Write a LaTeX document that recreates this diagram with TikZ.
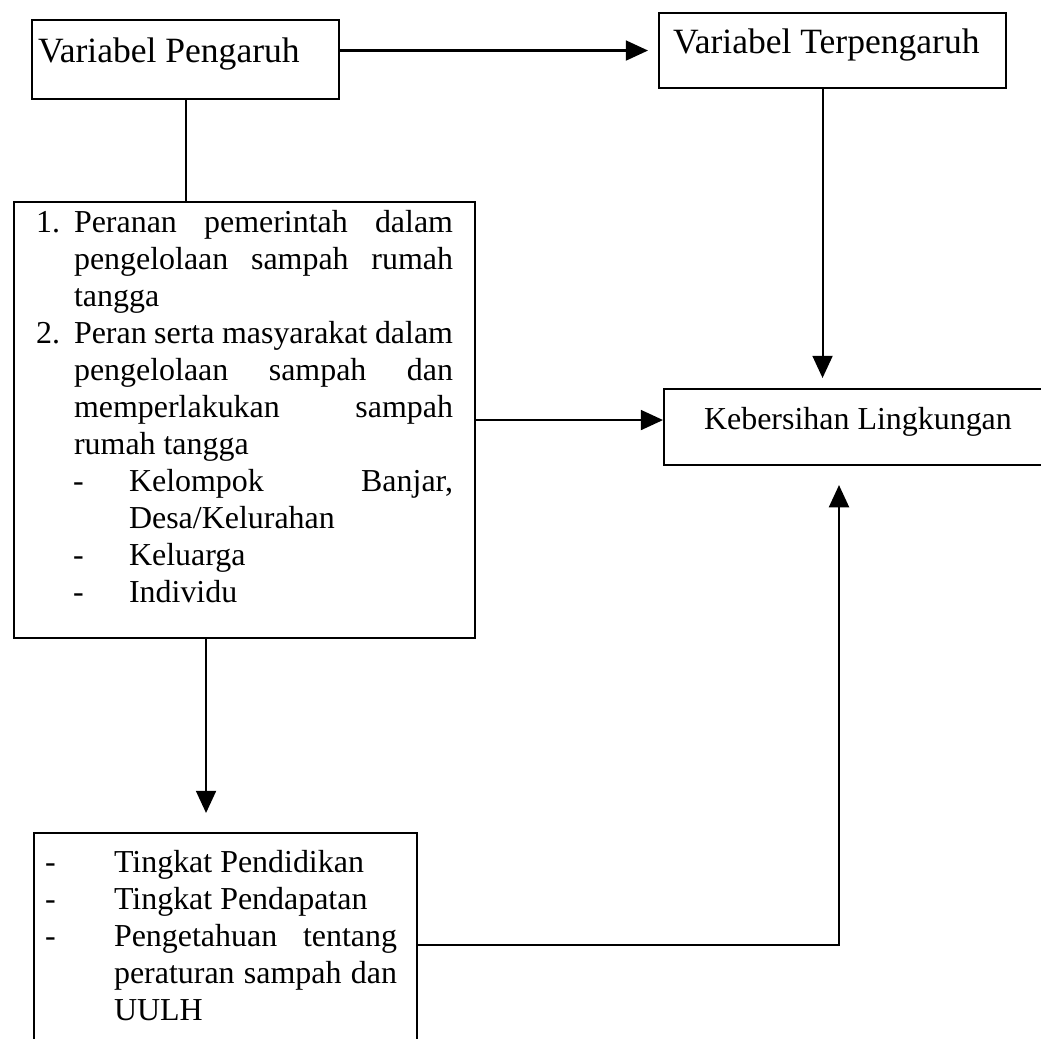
\documentclass[tikz,border=0pt]{standalone}
\usepackage{fontspec}
\setmainfont{Liberation Serif}
\usetikzlibrary{arrows.meta}

\begin{document}
\begin{tikzpicture}[x=0.36pt, y=-0.36pt,
    box/.style={draw, line width=0.75pt, anchor=north west, inner ysep=0pt,
      execute at begin node={\spaceskip=0pt\xspaceskip=0pt}},
    big/.style={font=\fontsize{12.8}{15}\selectfont},
    small/.style={font=\fontsize{11.5}{13.32}\selectfont},
    arr/.style={line width=0.75pt, -{Triangle[width=7.2pt,length=8pt]}}]
    % Page frame
    \useasboundingbox (0,0) rectangle (1041,1039);
    \clip (0,0) rectangle (1041,1039);

    % Independent variable
    \node[box, big, text width=106.2pt, inner xsep=2.16pt, text height=15.12pt, text depth=13.32pt]
      (pengaruh) at (31,19) {Variabel Pengaruh};

    % Dependent variable
    \node[box, big, text width=114.84pt, inner xsep=5.04pt, text height=14.4pt, text depth=12.6pt]
      (terpengaruh) at (658,12) {Variabel Terpengaruh};

    % Roles of government and community
    \node[box, small, text width=150.12pt, inner xsep=7.92pt, text height=10.8pt, text depth=146.16pt]
      (peranan) at (13,201) {%
      \makebox[13.68pt][l]{1.}\makebox[136.44pt][s]{Peranan \hfill pemerintah \hfill dalam}\\
      \hspace*{13.68pt}\makebox[136.44pt][s]{pengelolaan \hfill sampah \hfill rumah}\\
      \hspace*{13.68pt}tangga\\
      \makebox[13.68pt][l]{2.}\makebox[136.44pt][s]{Peran serta masyarakat dalam}\\
      \hspace*{13.68pt}\makebox[136.44pt][s]{pengelolaan \hfill sampah \hfill dan}\\
      \hspace*{13.68pt}\makebox[136.44pt][s]{memperlakukan \hfill sampah}\\
      \hspace*{13.68pt}rumah tangga\\
      \hspace*{13.32pt}\makebox[20.16pt][l]{-}\makebox[116.64pt][s]{Kelompok \hfill Banjar,}\\
      \hspace*{33.48pt}Desa/Kelurahan\\
      \hspace*{13.32pt}\makebox[20.16pt][l]{-}Keluarga\\
      \hspace*{13.32pt}\makebox[20.16pt][l]{-}Individu};

    % Environmental cleanliness (runs off the right edge)
    \node[box, small, text width=125pt, inner xsep=14.4pt, text height=14.4pt, text depth=12.96pt]
      (bersih) at (663,388) {Kebersihan Lingkungan};

    % Background factors (runs off the bottom edge)
    \node[box, small, text width=129.96pt, inner xsep=3.96pt, text height=14.04pt, text depth=75.24pt]
      (faktor) at (33,832) {%
      \makebox[24.84pt][l]{-}Tingkat Pendidikan\\
      \makebox[24.84pt][l]{-}Tingkat Pendapatan\\
      \makebox[24.84pt][l]{-}\makebox[101.88pt][s]{Pengetahuan \hfill tentang}\\
      \hspace*{24.84pt}\makebox[101.88pt][s]{peraturan \hfill sampah \hfill dan}\\
      \hspace*{24.84pt}UULH};

    % Connectors
    \draw[arr, shorten >=3.6pt] (terpengaruh.west -| pengaruh.east) -- (terpengaruh.west);
    \draw[line width=0.75pt] (pengaruh.south) -- (pengaruh.south |- peranan.north);
    \draw[arr, shorten >=3.6pt] ([xshift=-3.6pt]terpengaruh.south) -- ([xshift=-3.6pt]terpengaruh.south |- bersih.north);
    \draw[arr] (peranan.east) -- (peranan.east -| bersih.west);
    \draw[arr, shorten >=6.84pt] ([xshift=-13.86pt]peranan.south) -- ([xshift=-13.86pt]peranan.south |- faktor.north);
    \draw[arr, shorten >=6.84pt] ([yshift=-40.68pt]faktor.north east) -| ([xshift=63.36pt]bersih.south west);
\end{tikzpicture}
\end{document}
